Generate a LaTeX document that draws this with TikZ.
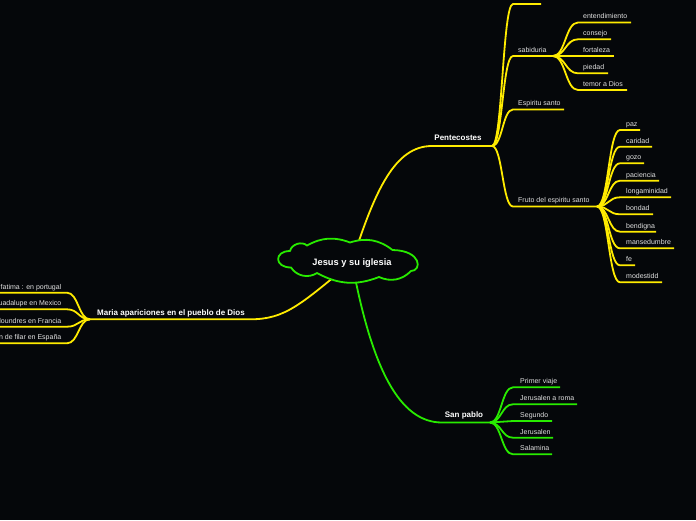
\documentclass[tikz,border=0pt]{standalone}
\usepackage{fontspec}
\setmainfont{Liberation Sans}
\usetikzlibrary{calc}
\definecolor{bg}{RGB}{5,7,10}
\definecolor{myyellow}{RGB}{255,235,0}
\definecolor{mygreen}{RGB}{40,235,0}
\definecolor{txt}{RGB}{225,225,225}
\newcommand\fan[4]{\draw[#1] (#2) .. controls ($(#2)!0.5!(#2 -| #3)$) and ($(#3)!0.5!(#3 -| #2)$) .. (#3) -- (#4);}
\newcommand\leaf[8]{\coordinate (#3s) at (#4,#5); \coordinate (#3e) at (#6,#5); \fan{#1}{#2}{#3s}{#3e} \node[lbl] (#3) at (#7,#5-3.6) {#8};}
\newcommand\leftleaf[6]{\coordinate (#3s) at (#4,#5); \coordinate (#3e) at (-5,#5); \fan{#1}{#2}{#3s}{#3e} \node[lbl,anchor=base east] (#3) at (61.5,#5-3.6) {#6};}
\begin{document}
\begin{tikzpicture}[x=1pt,y=-1pt,line join=round,
  lbl/.style={anchor=base west,inner sep=0pt,text=txt,font=\fontsize{7}{8}\selectfont},
  blbl/.style={anchor=base,inner sep=0pt,text=white,font=\bfseries\fontsize{8}{9}\selectfont},
  yl/.style={draw=myyellow,line width=1.8pt},
  gl/.style={draw=mygreen,line width=1.8pt},
]
\fill[bg] (0,0) rectangle (696,520);
\useasboundingbox (0,0) rectangle (696,520);
\coordinate (c0) at (352,262);
% Pentecostes
\coordinate (pS) at (432,146);
\coordinate (pH) at (492,146);
\draw[yl] (c0) .. controls (375,190) and (395,146) .. (pS) -- (pH);
\node[blbl] (pent) at (458,140) {Pentecostes};
\coordinate (e0s) at (513,4); \coordinate (e0e) at (541,4);
\fan{yl}{pH}{e0s}{e0e}
\coordinate (sabs) at (513,56); \coordinate (sabH) at (553,56);
\fan{yl}{pH}{sabs}{sabH}
\node[lbl] (sab) at (518,52.4) {sabiduria};
\leaf{yl}{sabH}{ent}{578}{22.5}{631}{583}{entendimiento}
\leaf{yl}{sabH}{con}{578}{39.3}{611}{583}{consejo}
\leaf{yl}{sabH}{fort}{578}{56}{614}{583}{fortaleza}
\leaf{yl}{sabH}{pie}{578}{73.3}{608}{583}{piedad}
\leaf{yl}{sabH}{tem}{578}{90}{627}{583}{temor a Dios}
\leaf{yl}{pH}{esp}{513}{109.5}{564}{518}{Espiritu santo}
\coordinate (frus) at (513,206.5); \coordinate (fruH) at (597,206.5);
\fan{yl}{pH}{frus}{fruH}
\node[lbl] (fru) at (518,202.9) {Fruto del espiritu santo};
\leaf{yl}{fruH}{paz}{620}{130}{640}{626}{paz}
\leaf{yl}{fruH}{car}{620}{146.7}{652}{626}{caridad}
\leaf{yl}{fruH}{goz}{620}{163.3}{644}{626}{gozo}
\leaf{yl}{fruH}{pac}{620}{180.7}{659}{626}{paciencia}
\leaf{yl}{fruH}{lon}{620}{197.3}{671}{626}{longaminidad}
\leaf{yl}{fruH}{bon}{620}{214.3}{653}{626}{bondad}
\leaf{yl}{fruH}{ben}{620}{231.7}{656}{626}{bendigna}
\leaf{yl}{fruH}{man}{620}{248.3}{674}{626}{mansedumbre}
\leaf{yl}{fruH}{fe}{620}{265.3}{635}{626}{fe}
\leaf{yl}{fruH}{mod}{620}{282.3}{662}{626}{modestidd}
% San pablo
\coordinate (sS) at (442,422.5);
\coordinate (sH) at (490,422.5);
\draw[gl] (c0) .. controls (372,370) and (400,422.5) .. (sS) -- (sH);
\node[blbl] (sp) at (464,417) {San pablo};
\leaf{gl}{sH}{pri}{513}{387.3}{560}{520}{Primer viaje}
\leaf{gl}{sH}{jer}{513}{404.3}{577}{520}{Jerusalen a roma}
\leaf{gl}{sH}{seg}{513}{421}{552}{520}{Segundo}
\leaf{gl}{sH}{jeb}{513}{437.7}{553}{520}{Jerusalen}
\leaf{gl}{sH}{sal}{513}{454.3}{552}{520}{Salamina}
% Maria
\coordinate (mS) at (250,319.3);
\coordinate (mH) at (90,319.3);
\draw[yl] (c0) .. controls (300,305) and (285,319.3) .. (mS) -- (mH);
\node[blbl] (mar) at (171,315) {Maria apariciones en el pueblo de Dios};
\leftleaf{yl}{mH}{fat}{67}{292.7}{fatima : en portugal}
\leftleaf{yl}{mH}{gua}{67}{309.3}{uadalupe en Mexico}
\leftleaf{yl}{mH}{lou}{67}{326.7}{loundres en Francia}
\leftleaf{yl}{mH}{pil}{67}{343.3}{n de filar en España}
% cloud
\draw[draw=mygreen,line width=1.8pt,fill=bg]
  (290,251) to[bend left=60] (307,245.5)
  to[bend left=25] (350,242.5)
  to[bend left=28] (392.5,250)
  .. controls (422,250.5) and (422,271) .. (411,271)
  to[bend left=35] (379,277)
  to[bend left=25] (317,273)
  to[bend left=45] (291,267.5)
  .. controls (274,267.5) and (274,251) .. (290,251) -- cycle;
\node[inner sep=0pt,text=white,font=\bfseries\fontsize{9.3}{10}\selectfont,anchor=base] (root) at (352,265.5) {Jesus y su iglesia};
\end{tikzpicture}
\end{document}
